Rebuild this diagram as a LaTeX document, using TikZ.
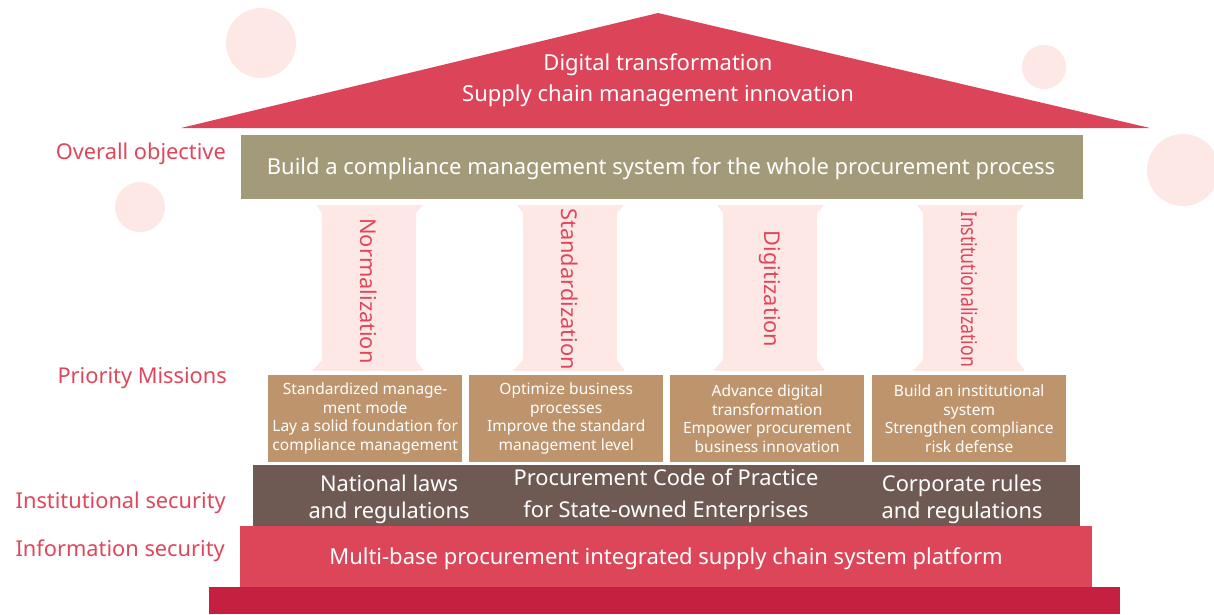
\documentclass[tikz,border=0pt]{standalone}
\usepackage{fontspec}
\setmainfont{Noto Sans}
\definecolor{roofred}{HTML}{DC4459}
\definecolor{pale}{HTML}{FDE8E6}
\definecolor{olive}{HTML}{A39A79}
\definecolor{tan}{HTML}{BE946D}
\definecolor{brownbox}{HTML}{6F5A53}
\definecolor{infored}{HTML}{DD4558}
\definecolor{basered}{HTML}{C5203F}
\definecolor{labred}{HTML}{E0465A}
\begin{document}
\begin{tikzpicture}[x=1pt,y=-1pt,
  bubble/.style={fill=pale,draw=none},
  whitetxt/.style={text=white,align=center,inner sep=0pt},
  sidelabel/.style={text=labred,anchor=east,inner sep=0pt,font=\fontsize{21.8}{24}\selectfont},
  missionbox/.style={fill=tan,draw=none,minimum width=194pt,minimum height=87pt,inner sep=0pt,anchor=north west,
     text=white,align=center,font=\fontsize{15.5}{18.5}\selectfont},
  pillartxt/.style={text=labred,rotate=-90,inner sep=0pt,font=\fontsize{21.8}{24}\selectfont}
]
\useasboundingbox (0,0) rectangle (1214,614);
% background bubbles
\fill[bubble] (261,43) circle (35);
\fill[bubble] (1044,67) circle (22);
\fill[bubble] (1183,170) circle (36);
\fill[bubble] (140,207) circle (25);
% roof
\fill[roofred] (658,13) -- (1150,128) -- (181,128) -- cycle;
\node[whitetxt,font=\fontsize{22}{31}\selectfont] (roof) at (658,80) {Digital transformation\\Supply chain management innovation};
% objective
\fill[olive] (241,135) rectangle (1083,199);
\node[whitetxt,font=\fontsize{22}{24}\selectfont] (objective) at (661,169) {Build a compliance management system for the whole procurement process};
% pillars
\foreach \c in {369,570,770,970}{
  \fill[pale] (\c-53,205) -- (\c+54,205) -- (\c+47,213) -- (\c+47,360) -- (\c+55,371) -- (\c-57,371) -- (\c-47,360) -- (\c-47,213) -- cycle;
}
\node[pillartxt] (p1) at (369,291) {Normalization};
\node[pillartxt] (p2) at (570,289) {Standardization};
\node[pillartxt] (p3) at (770,289) {Digitization};
\node[pillartxt] (p4) at (970,289) {\scalebox{0.81}[1]{Institutionalization}};
% mission boxes
\node[missionbox] (m1) at (268,375) {Standardized manage-\\ment mode\\Lay a solid foundation for\\compliance management};
\node[missionbox] (m2) at (469,375) {Optimize business\\processes\\Improve the standard\\management level};
\node[missionbox] (m3) at (670,375) {Advance digital\\transformation\\Empower procurement\\business innovation};
\node[missionbox] (m4) at (872,375) {Build an institutional\\system\\Strengthen compliance\\risk defense};
% institutional
\fill[brownbox] (253,465) rectangle (1080,526);
\node[whitetxt,font=\fontsize{21.8}{27}\selectfont] (i1) at (389,499) {National laws\\and regulations};
\node[whitetxt,font=\fontsize{21.8}{32}\selectfont] (i2) at (666,496) {Procurement Code of Practice\\for State-owned Enterprises};
\node[whitetxt,font=\fontsize{21.8}{27}\selectfont] (i3) at (962,499) {Corporate rules\\and regulations};
% information
\fill[infored] (240,526) rectangle (1092,587);
\node[whitetxt,font=\fontsize{22}{24}\selectfont] (info) at (666,559) {Multi-base procurement integrated supply chain system platform};
% base
\fill[basered] (209,587) rectangle (1120,614);
% labels
\node[sidelabel] (l1) at (226,154) {Overall objective};
\node[sidelabel] (l2) at (227,378) {Priority Missions};
\node[sidelabel] (l3) at (226,503) {Institutional security};
\node[sidelabel] (l4) at (225,551) {Information security};
\end{tikzpicture}
\end{document}
